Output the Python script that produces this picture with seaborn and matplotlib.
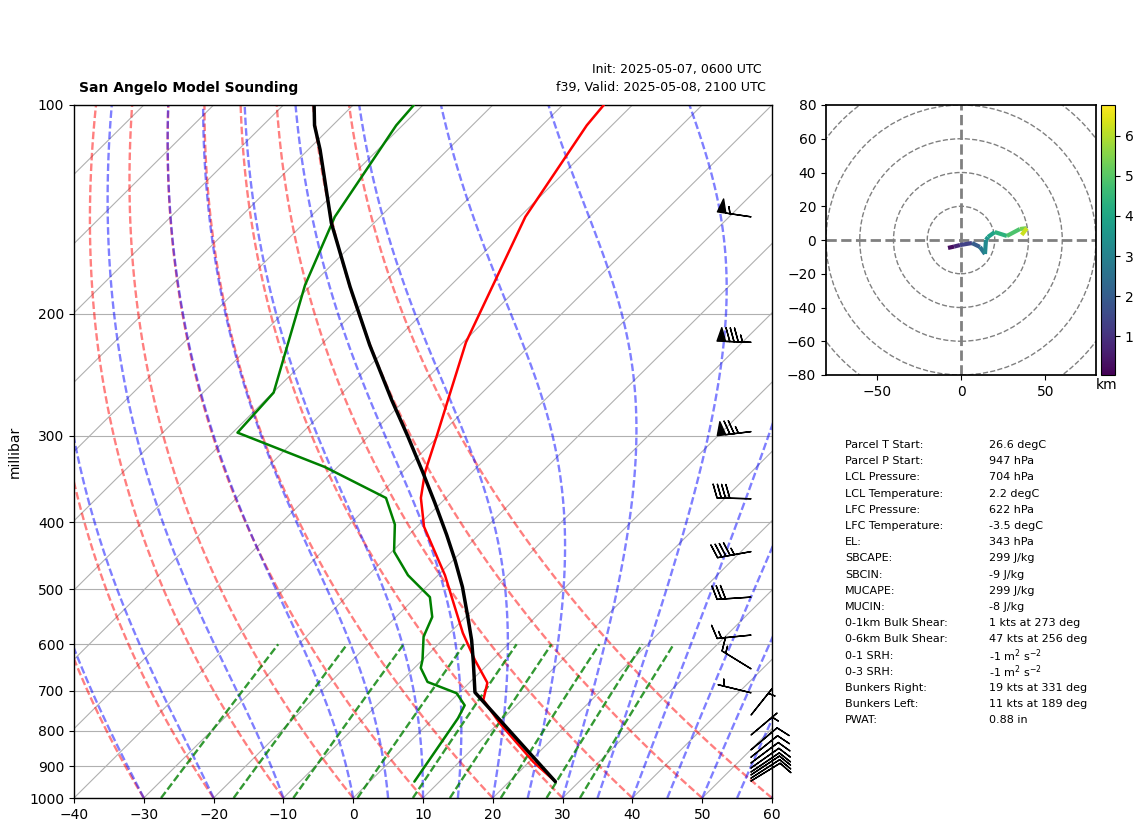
"""Skew-T sounding with hodograph and parcel table for San Angelo."""
import numpy as np
import pandas as pd
import matplotlib
matplotlib.use("Agg")
import matplotlib.pyplot as plt
from matplotlib.collections import LineCollection
from matplotlib.patches import Circle
import seaborn as sns

# sounding, pressure in hPa and temperatures in degC
TEMP_P = [100, 107, 145, 220, 267, 299, 339, 369, 406, 477, 578, 632, 682, 722, 780, 887, 947]
TEMP_C = [-64.1, -63.6, -59.2, -49.6, -43.8, -40.4, -36.7, -33.6, -29.0, -19.0, -8.1, -2.5,
          2.6, 4.5, 10.2, 20.6, 26.6]

DEW_P = [100, 107, 145, 182, 260, 297, 333, 369, 403, 441, 477, 513, 548, 585, 632, 649, 680,
         706, 735, 767, 947]
DEW_C = [-91.3, -90.9, -86.5, -80.9, -69.9, -69.3, -51.8, -38.6, -33.5, -29.7, -24.3, -18.0,
         -14.8, -13.2, -10.0, -9.1, -6.1, -0.3, 2.6, 3.5, 6.4]

PARCEL_P = [100, 107, 116, 148, 183, 222, 267, 301, 339, 375, 417, 454, 496, 548, 592, 638, 704, 947]
PARCEL_C = [-105.6, -102.6, -98.3, -86.1, -74.2, -63.0, -51.8, -44.3, -37.0, -30.9, -24.6,
            -19.7, -14.8, -9.7, -5.8, -2.3, 2.2, 26.6]

# wind barbs
BARB_P = [145, 220, 296, 370, 441, 513, 582, 651, 705, 759, 811, 852, 873, 890, 905, 917, 926, 936, 945]
BARB_U = [54, 85, 74, 40, 44, 30, 15, 13, 4.9, -3.1, -3.8, -7.6, -7.8, -8, -8.2, -8.3, -8.3, -8.4, -8.5]
BARB_V = [-8, -3, 9, -1, 8, 2, 1.5, -8, -1.2, -3.9, -3.2, -6.4, -6.3, -6, -5.8, -5.6, -5.5, -5.4, -5.2]

# hodograph
HODO_U = [-7.7, -4.1, -0.6, 6.5, 11.2, 14.2, 14.8, 16.0, 20.0, 27.2, 34.9, 39.0, 36.0]
HODO_V = [-4.7, -3.9, -3.0, -1.8, -4.1, -8.3, 0.0, 1.8, 4.7, 2.4, 6.5, 7.0, 3.0]
HODO_KM = [0.03, 0.5, 1.0, 1.7, 2.3, 3.0, 3.4, 3.7, 4.1, 4.6, 5.1, 5.7, 6.77]
HODO_RINGS = [20, 40, 60, 80, 100]

# reference line families, each value names one curve at 1000 hPa
DRY_T0 = [-40, -30, -20, -10, 0, 10, 20, 30, 40, 50, 60]
MOIST_T0 = [-40, -30, -20, -10, 0, 5, 10, 15, 20, 25, 30, 35, 40, 45, 50, 55, 60]
MIX_W = [0.0004, 0.001, 0.002, 0.004, 0.007, 0.01, 0.016, 0.024, 0.032]
ISOBARS = [1000, 900, 800, 700, 600, 500, 400, 300, 200, 100]
ISOTHERMS = list(range(-170, 70, 10))

TABLE_NAMES = ["Parcel T Start:", "Parcel P Start:", "LCL Pressure:", "LCL Temperature:", "LFC Pressure:",
               "LFC Temperature:", "EL:", "SBCAPE:", "SBCIN:", "MUCAPE:", "MUCIN:", "0-1km Bulk Shear:",
               "0-6km Bulk Shear:", "0-1 SRH:", "0-3 SRH:", "Bunkers Right:", "Bunkers Left:", "PWAT:"]
TABLE_VALUES = ["26.6 degC", "947 hPa", "704 hPa", "2.2 degC", "622 hPa", "-3.5 degC", "343 hPa", "299 J/kg",
                "-9 J/kg", "299 J/kg", "-8 J/kg", "1 kts at 273 deg", "47 kts at 256 deg", "-1 m$^2$ s$^{-2}$",
                "-1 m$^2$ s$^{-2}$", "19 kts at 331 deg", "11 kts at 189 deg", "0.88 in"]

W, H = 1142, 832
DASH = (0, (3.2, 1.3))


def skew(t, p):
    # x position of temperature t at pressure p, 10 degC per tenth of a decade
    return np.asarray(t, dtype=float) + 100 * np.log10(1000 / np.asarray(p, dtype=float))


def px_axes(x0, y0, x1, y1):
    return [x0 / W, 1 - y1 / H, (x1 - x0) / W, (y1 - y0) / H]


def moist_curve(t0, p):
    # moist lapse rate stepped upward in log pressure
    t = t0 + 273.15
    out = [t]
    for i in range(len(p) - 1):
        es = 6.112 * np.exp(17.67 * (t - 273.15) / (t - 29.65))
        rs = 0.622 * es / (p[i] - es)
        lv = 2.501e6
        dt = (287.05 * t + lv * rs) / (1005.0 + lv ** 2 * rs * 0.622 / (287.05 * t ** 2))
        t = t + dt * np.log(p[i + 1] / p[i])
        out.append(t)
    return np.array(out) - 273.15


sns.set_theme(style="white", rc={"axes.edgecolor": "black", "xtick.bottom": True, "ytick.left": True,
                                 "xtick.color": "black", "ytick.color": "black", "text.color": "black",
                                 "axes.labelcolor": "black"})
plt.rcParams["font.family"] = ["DejaVu Sans"]
plt.rcParams["font.size"] = 10

fig = plt.figure(figsize=(W / 100, H / 100), dpi=100)
ax = fig.add_axes(px_axes(74, 105, 772, 798))
ax.set_yscale("log")

# background lines
for t in ISOTHERMS:
    ax.plot(skew([t, t], [1000, 100]), [1000, 100], color="#b0b0b0", lw=0.8, zorder=1)
for p in ISOBARS:
    ax.axhline(p, color="#b0b0b0", lw=0.8, zorder=1)

levels = np.geomspace(1000, 100, 120)
for t0 in DRY_T0:
    ax.plot(skew((t0 + 273.15) * (levels / 1000) ** 0.2857 - 273.15, levels), levels,
            color="red", alpha=0.5, lw=1.7, ls=DASH, zorder=2)
for t0 in MOIST_T0:
    ax.plot(skew(moist_curve(t0, levels), levels), levels,
            color="blue", alpha=0.5, lw=1.7, ls=DASH, zorder=2)
low_levels = np.linspace(1000, 600, 20)
for w in MIX_W:
    e = w * low_levels / (0.622 + w)
    td = 243.5 * np.log(e / 6.112) / (17.67 - np.log(e / 6.112))
    ax.plot(skew(td, low_levels), low_levels, color="green", alpha=0.8, lw=1.7, ls=DASH, zorder=2)

# sounding lines
sounding = pd.concat([
    pd.DataFrame({"x": skew(TEMP_C, TEMP_P), "p": TEMP_P, "kind": "temp"}),
    pd.DataFrame({"x": skew(DEW_C, DEW_P), "p": DEW_P, "kind": "dew"}),
    pd.DataFrame({"x": skew(PARCEL_C, PARCEL_P), "p": PARCEL_P, "kind": "parcel"}),
])
sns.lineplot(data=sounding, x="x", y="p", hue="kind", size="kind", sort=False, estimator=None, ax=ax,
             palette={"temp": "red", "dew": "green", "parcel": "black"},
             sizes={"temp": 1.8, "dew": 1.8, "parcel": 2.5}, legend=False, zorder=4)

ax.barbs([0.97] * len(BARB_P), BARB_P, BARB_U, BARB_V, transform=ax.get_yaxis_transform(),
         clip_on=False, color="black", length=7, zorder=5)

ax.set_xlim(-40, 60)
ax.set_ylim(1000, 100)
ax.set_yticks(ISOBARS)
ax.set_yticklabels([str(p) for p in ISOBARS])
ax.minorticks_off()
ax.set_xticks(range(-40, 70, 10))
ax.set_xlabel("")
ax.set_ylabel("millibar", fontsize=10, labelpad=5)
ax.tick_params(length=3.5, width=0.8, labelsize=10, pad=3.5)
for s in ax.spines.values():
    s.set_linewidth(1.0)

fig.text(79 / W, 1 - 88 / H, "San Angelo Model Sounding", fontsize=10, fontweight="bold", va="center")
fig.text(762 / W, 1 - 70 / H, "Init: 2025-05-07, 0600 UTC", fontsize=9, ha="right", va="center")
fig.text(766 / W, 1 - 88 / H, "f39, Valid: 2025-05-08, 2100 UTC", fontsize=9.05, ha="right", va="center")

# hodograph panel
hax = fig.add_axes(px_axes(826, 105, 1096, 375))
hax.set_xlim(-80, 80)
hax.set_ylim(-80, 80)
hax.set_xticks([-50, 0, 50])
hax.set_yticks(range(-80, 100, 20))
hax.tick_params(length=3.5, width=0.8, labelsize=10, pad=3.5)
for r in HODO_RINGS:
    hax.add_patch(Circle((0, 0), r, fill=False, ec="gray", ls="--", lw=1))
hax.axhline(0, color="gray", ls="--", lw=2)
hax.axvline(0, color="gray", ls="--", lw=2)

norm = plt.Normalize(0.03, 6.77)
pts = np.column_stack([HODO_U, HODO_V])
km = np.array(HODO_KM)
hodo = LineCollection(np.stack([pts[:-1], pts[1:]], axis=1), cmap="viridis", norm=norm, linewidths=3, zorder=3)
hodo.set_array((km[:-1] + km[1:]) / 2)
hax.add_collection(hodo)

cax = fig.add_axes(px_axes(1100.5, 105, 1115, 375))
cb = fig.colorbar(plt.cm.ScalarMappable(norm=norm, cmap="viridis"), cax=cax)
cb.set_ticks([1, 2, 3, 4, 5, 6])
cb.ax.tick_params(length=3.5, width=0.8, labelsize=10, pad=3.5)
cb.outline.set_linewidth(0.8)
fig.text(1106.5 / W, 1 - 385 / H, "km", fontsize=10, ha="center", va="center")

# parcel table
for i, (name, val) in enumerate(zip(TABLE_NAMES, TABLE_VALUES)):
    y = 1 - (445 + i * 16.2) / H
    fig.text(845 / W, y, name, fontsize=8, va="center")
    fig.text(989 / W, y, val, fontsize=8, va="center")

fig.savefig("out.png", dpi=100)
